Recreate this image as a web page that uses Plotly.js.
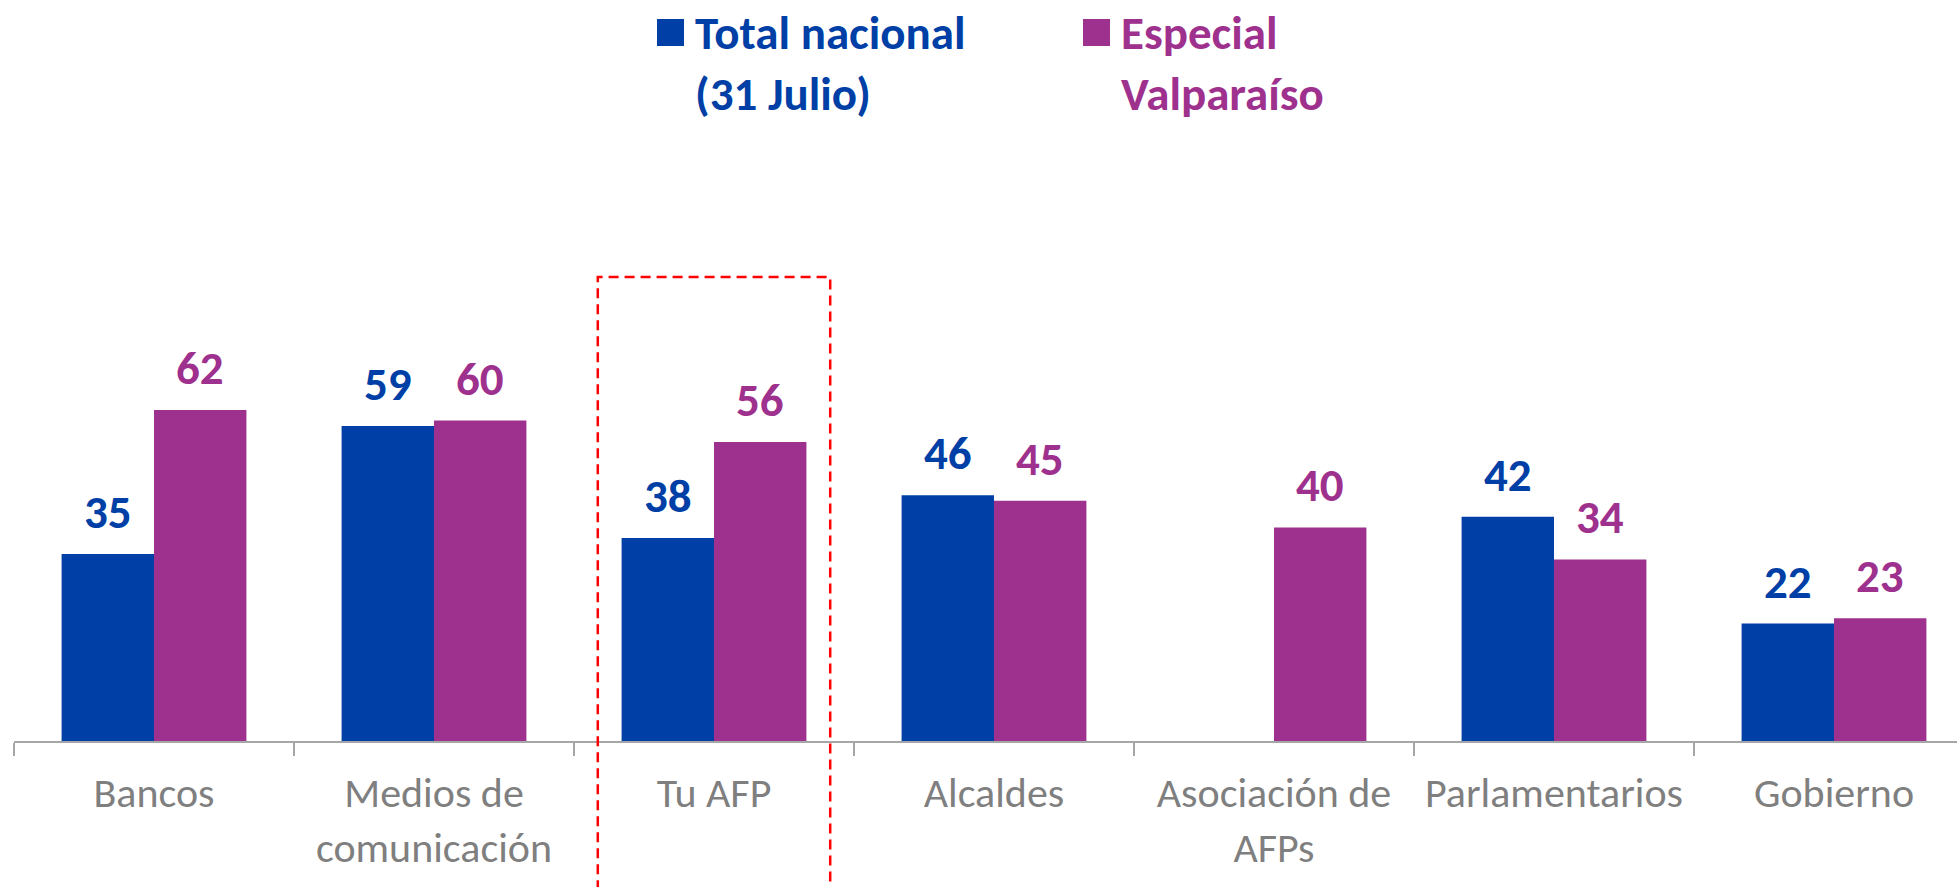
<!DOCTYPE html>
<html>
<head>
<meta charset="utf-8">
<script src="https://cdn.plot.ly/plotly-3.0.1.min.js"></script>
<style>html,body{margin:0;padding:0;background:#fff;}#chart{width:1957px;height:887px;}</style>
</head>
<body>
<div id="chart"></div>
<script>
// ---- data ----
const categories = ["Bancos", "Medios de<br>comunicación", "Tu AFP", "Alcaldes", "Asociación de<br>AFPs", "Parlamentarios", "Gobierno"];
const totalNacional = [35, 59, 38, 46, null, 42, 22];
const especialValparaiso = [62, 60, 56, 45, 40, 34, 23];
const seriesNames = ["Total nacional<br>(31 Julio)", "Especial<br>Valparaíso"];
const highlightCategory = "Tu AFP";

// ---- style ----
const BLUE = "#003FA6", PURPLE = "#9F318E", GRAY = "#7F7F7F", AXIS = "#A6A6A6";
const FONT = "Carlito, Calibri, Lato, sans-serif";
const W = 1957, H = 887, L = 14, R = 0, T = 204, B = 146;
const pw = W - L - R, ph = H - T - B;
const BARGAP = 0.34;
const xmax = -0.5 + pw / 280;
const catPx = pw / (xmax + 0.5);
const barPx = catPx * (1 - BARGAP) / 2;
const pxX = x => (x - L) / pw;
const pxY = y => (H - B - y) / ph;

const traces = [
  {type: "bar", name: seriesNames[0], x: categories, y: totalNacional, marker: {color: BLUE}, hoverinfo: "skip"},
  {type: "bar", name: seriesNames[1], x: categories, y: especialValparaiso, marker: {color: PURPLE}, hoverinfo: "skip"}
];

const annotations = [];
[[totalNacional, BLUE, -1], [especialValparaiso, PURPLE, 1]].forEach(([vals, col, side]) => {
  vals.forEach((v, i) => {
    if (v === null) return;
    annotations.push({
      x: categories[i], y: v, xref: "x", yref: "y", text: String(v), showarrow: false,
      xanchor: "center", yanchor: "bottom", xshift: side * barPx / 2, yshift: 11,
      font: {family: FONT, size: 47, color: col, weight: "bold"}
    });
  });
});
// legend as text
annotations.push({xref: "paper", yref: "paper", x: pxX(693), y: pxY(2), xanchor: "left", yanchor: "top", align: "left",
  text: "<b>" + seriesNames[0] + "</b>", showarrow: false, font: {family: FONT, size: 47, color: BLUE}});
annotations.push({xref: "paper", yref: "paper", x: pxX(1119), y: pxY(2), xanchor: "left", yanchor: "top", align: "left",
  text: "<b>" + seriesNames[1] + "</b>", showarrow: false, font: {family: FONT, size: 47, color: PURPLE}});

const hi = categories.indexOf(highlightCategory);
const shapes = [
  {type: "rect", xref: "paper", yref: "paper", x0: pxX(657), x1: pxX(684), y0: pxY(46), y1: pxY(19), fillcolor: BLUE, line: {width: 0}},
  {type: "rect", xref: "paper", yref: "paper", x0: pxX(1083), x1: pxX(1110), y0: pxY(46), y1: pxY(19), fillcolor: PURPLE, line: {width: 0}},
  {type: "rect", xref: "x", yref: "paper", x0: hi - 0.415, x1: hi + 0.415, y0: pxY(905), y1: pxY(277),
   line: {color: "#FF0000", width: 2.5, dash: "10px,6px"}, fillcolor: "rgba(0,0,0,0)", layer: "above"}
];

const layout = {
  width: W, height: H,
  margin: {l: L, r: R, t: T, b: B, pad: 0},
  paper_bgcolor: "#fff", plot_bgcolor: "#fff",
  barmode: "group", bargap: BARGAP, bargroupgap: 0,
  showlegend: false,
  font: {family: FONT},
  xaxis: {
    type: "category", range: [-0.5, xmax], fixedrange: true,
    showline: true, linecolor: AXIS, linewidth: 2,
    ticks: "outside", tickson: "boundaries", ticklen: 13, tickcolor: AXIS, tickwidth: 1.5,
    tickfont: {family: FONT, size: 42, color: GRAY}, showgrid: false, zeroline: false,
    ticklabelstandoff: 14
  },
  yaxis: {range: [0, ph / 5.34], visible: false, showgrid: false, zeroline: false, fixedrange: true},
  annotations: annotations,
  shapes: shapes
};

Plotly.newPlot("chart", traces, layout, {displayModeBar: false, staticPlot: true});
</script>
</body>
</html>
